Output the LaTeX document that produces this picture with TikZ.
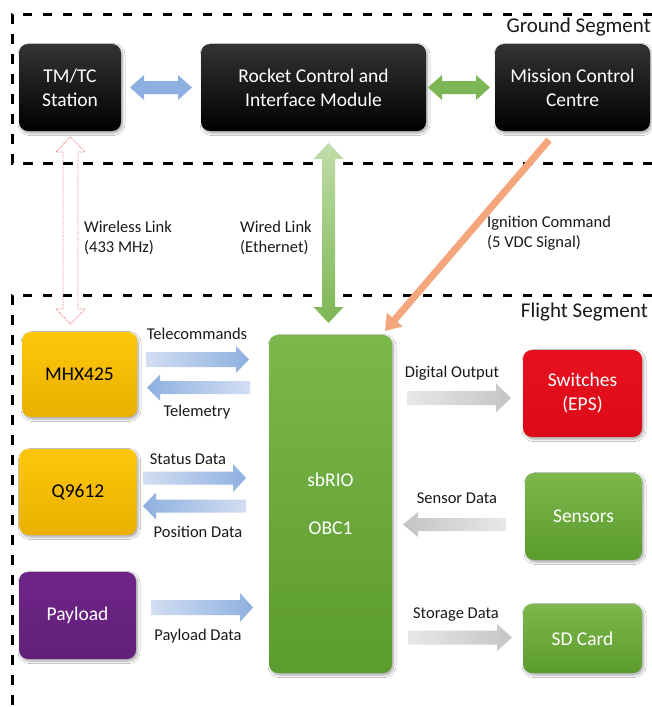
\documentclass[tikz,border=0pt]{standalone}
\usepackage{fontspec}
\setmainfont{Carlito}
\usetikzlibrary{shadows.blur,arrows.meta}
\definecolor{bluelt}{HTML}{D2DEF2}
\definecolor{bluedk}{HTML}{8EB0E0}
\definecolor{greenlt}{HTML}{C0DDA8}
\definecolor{greendk}{HTML}{7DB655}
\definecolor{graylt}{HTML}{E8E8E8}
\definecolor{graydk}{HTML}{C4C4C4}
\definecolor{orangeln}{HTML}{F4A67C}
\definecolor{reddot}{HTML}{F07070}
\definecolor{gbtop}{HTML}{7CB84C}
\definecolor{gbbot}{HTML}{5C9B2E}
\definecolor{ytop}{HTML}{FFC70A}
\definecolor{ybot}{HTML}{E9B000}
\definecolor{ptop}{HTML}{6E2587}
\definecolor{pbot}{HTML}{62207A}
\definecolor{rtop}{HTML}{E8101E}
\definecolor{rbot}{HTML}{DC0A18}
\newcommand\blkarrow[7]{%
  \pgfmathsetmacro\hbase{#2 - sign(#2-#1)*#6}%
  \shade[#7] (#1,#3-#4) -- (\hbase,#3-#4) -- (\hbase,#3-#5) -- (#2,#3) -- (\hbase,#3+#5) -- (\hbase,#3+#4) -- (#1,#3+#4) -- cycle;}
\newcommand\dblharrow[7]{%
  \pgfmathsetmacro\hla{#1+#6}\pgfmathsetmacro\hlb{#2-#6}%
  \path[#7] (#1,#3) -- (\hla,#3-#5) -- (\hla,#3-#4) -- (\hlb,#3-#4) -- (\hlb,#3-#5) -- (#2,#3) -- (\hlb,#3+#5) -- (\hlb,#3+#4) -- (\hla,#3+#4) -- (\hla,#3+#5) -- cycle;}
\newcommand\dblvarrow[7]{%
  \pgfmathsetmacro\hla{#1+#6}\pgfmathsetmacro\hlb{#2-#6}%
  \path[#7] (#3,#1) -- (#3-#5,\hla) -- (#3-#4,\hla) -- (#3-#4,\hlb) -- (#3-#5,\hlb) -- (#3,#2) -- (#3+#5,\hlb) -- (#3+#4,\hlb) -- (#3+#4,\hla) -- (#3+#5,\hla) -- cycle;}
\tikzset{
  blk/.style={rounded corners=9pt, align=center, inner sep=0pt,
    font=\fontsize{19.5}{24}\selectfont,
    blur shadow={shadow xshift=1.5pt, shadow yshift=-2pt, shadow blur steps=6, shadow blur radius=2.5pt, shadow opacity=35}},
  blackbox/.style={blk, top color=black!80, bottom color=black, text=white},
  greenbox/.style={blk, top color=gbtop, bottom color=gbbot, text=white},
  yellowbox/.style={blk, top color=ytop, bottom color=ybot, text=black},
  purplebox/.style={blk, top color=ptop, bottom color=pbot, text=white},
  redbox/.style={blk, top color=rtop, bottom color=rbot, text=white},
  lbl/.style={font=\fontsize{16.5}{20}\selectfont, inner sep=0pt, text=black!90},
  seg/.style={font=\fontsize{21}{24}\selectfont, inner sep=0pt, text=black!90},
  segline/.style={line width=3pt, dash pattern=on 9.5pt off 10.5pt},
  bluearr/.style={left color=bluelt, right color=bluedk},
  bluearrl/.style={left color=bluedk, right color=bluelt},
  grayarr/.style={left color=graylt, right color=graydk},
  grayarrl/.style={left color=graydk, right color=graylt},
}
\begin{document}
\begin{tikzpicture}[x=1pt,y=-1pt]
\useasboundingbox (0,0) rectangle (652,707);
\fill[white] (0,0) rectangle (652,707);
% segment borders
\draw[segline] (652,14) -- (12,14) -- (12,163) -- (652,163);
\draw[segline] (652,295) -- (12,295) -- (12,707);
\node[seg, anchor=east] (gs) at (651,27) {Ground Segment};
\node[seg, anchor=east] (fs) at (648,312) {Flight Segment};
% ground nodes
\node[blackbox, minimum width=102pt, minimum height=87pt] (tmtc) at (70,87.5) {TM/TC\\Station};
\node[blackbox, minimum width=225pt, minimum height=87pt] (rcim) at (313.5,87.5) {Rocket Control and\\Interface Module};
\node[blackbox, minimum width=155pt, minimum height=87pt] (mcc) at (572.5,87.5) {Mission Control\\Centre};
% flight nodes
\node[yellowbox, minimum width=115pt, minimum height=85pt] (mhx) at (79.5,374.5) {MHX425};
\node[yellowbox, minimum width=117pt, minimum height=86pt] (q96) at (78,492) {Q9612};
\node[purplebox, minimum width=117pt, minimum height=87pt] (pay) at (77.5,615.5) {Payload};
\node[greenbox, minimum width=123pt, minimum height=338pt] (obc) at (330.5,504) {sbRIO\\[24pt]OBC1};
\node[redbox, minimum width=119pt, minimum height=87pt] (sw) at (582.5,393.5) {Switches\\(EPS)};
\node[greenbox, minimum width=117pt, minimum height=87pt] (sen) at (583.5,516.5) {Sensors};
\node[greenbox, minimum width=119pt, minimum height=69pt] (sd) at (582.5,638.5) {SD Card};
% ground connectors
\dblharrow{130}{192}{87.5}{6.5}{12.5}{14}{shade, left color=bluedk, middle color=bluelt, right color=bluedk}
\dblharrow{428}{490}{87.5}{6.5}{12.5}{14}{shade, left color=greendk, middle color=greenlt, right color=greendk}
\dblvarrow{137}{324}{70.5}{7.5}{14.5}{15}{draw=reddot, densely dotted, line width=0.8pt}
\dblvarrow{143}{323}{328.5}{6.5}{15}{16}{shade, top color=greenlt, bottom color=greendk}
\draw[orangeln, line width=7pt, -{Triangle[width=20pt,length=15pt]}] (549,140) -- (385,331);
\node[lbl, anchor=west, align=left] (wl) at (84,238) {Wireless Link\\(433 MHz)};
\node[lbl, anchor=west, align=left] (wd) at (240,238) {Wired Link\\(Ethernet)};
\node[lbl, anchor=west, align=left] (ig) at (487,233) {Ignition Command\\(5 VDC Signal)};
% flight connectors
\blkarrow{146}{249}{359.5}{7.5}{13.5}{13}{bluearr}
\blkarrow{250}{147}{387.5}{6.5}{13}{13}{bluearrl}
\blkarrow{143}{246}{478}{6.5}{14}{13}{bluearr}
\blkarrow{246}{143}{506}{6.5}{13.5}{13}{bluearrl}
\blkarrow{151}{253}{607.5}{7.5}{14.5}{13}{bluearr}
\blkarrow{407}{511}{398}{7}{14.5}{15}{grayarr}
\blkarrow{506}{403}{524.5}{6.5}{12.5}{15}{grayarrl}
\blkarrow{408}{512}{637.5}{7}{13.5}{15}{grayarr}
\node[lbl] (l1) at (197,334) {Telecommands};
\node[lbl] (l2) at (197,412) {Telemetry};
\node[lbl] (l3) at (188,459) {Status Data};
\node[lbl] (l4) at (198,532) {Position Data};
\node[lbl] (l5) at (198,636) {Payload Data};
\node[lbl] (l6) at (452,373) {Digital Output};
\node[lbl] (l7) at (457,498) {Sensor Data};
\node[lbl] (l8) at (456,615) {Storage Data};
\end{tikzpicture}
\end{document}
